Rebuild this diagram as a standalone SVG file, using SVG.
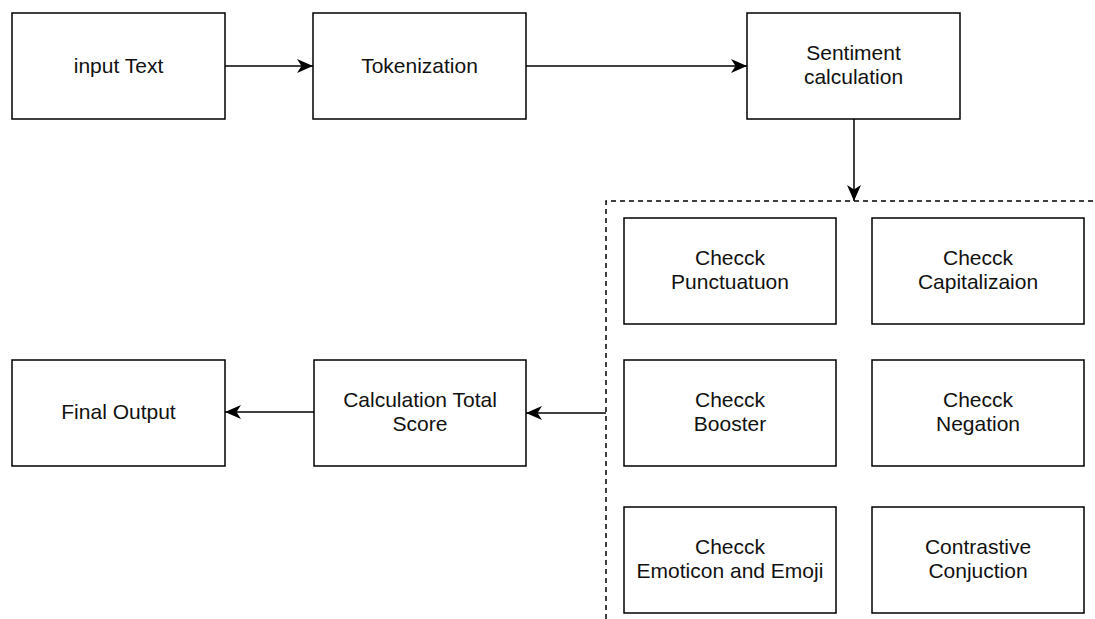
<svg xmlns="http://www.w3.org/2000/svg" width="1095" height="619" viewBox="0 0 1095 619">
  <style>
    .box { fill: #ffffff; stroke: #000000; stroke-width: 1.5; }
    .lbl { font-family: "Liberation Sans", Arial, Helvetica, sans-serif; font-size: 21px; fill: #111111; text-anchor: middle; }
    .edge { fill: none; stroke: #000000; stroke-width: 1.5; }
    .group { fill: none; stroke: #000000; stroke-width: 1.5; stroke-dasharray: 5 4; }
  </style>
  <defs>
    <marker id="arrow" markerUnits="userSpaceOnUse" markerWidth="18" markerHeight="16" refX="16" refY="8" orient="auto">
      <path d="M0,1 L16,8 L0,15 L4.5,8 Z" fill="#000000"/>
    </marker>
  </defs>
  <rect width="1095" height="619" fill="#ffffff"/>

  <!-- dashed container of the checks -->
  <path class="group" d="M606,619 L606,201 L1095,201"/>

  <g id="connectors">
    <line class="edge" x1="225" y1="66" x2="313" y2="66" marker-end="url(#arrow)"/>
    <line class="edge" x1="526" y1="66" x2="747" y2="66" marker-end="url(#arrow)"/>
    <line class="edge" x1="854" y1="119" x2="854" y2="201" marker-end="url(#arrow)"/>
    <line class="edge" x1="606" y1="413" x2="526" y2="413" marker-end="url(#arrow)"/>
    <line class="edge" x1="314" y1="412" x2="225" y2="412" marker-end="url(#arrow)"/>
  </g>

  <g id="input-text">
    <rect class="box" x="12" y="13" width="213" height="106"/>
    <text class="lbl" x="118.5" y="73">input Text</text>
  </g>
  <g id="tokenization">
    <rect class="box" x="313" y="13" width="213" height="106"/>
    <text class="lbl" x="419.5" y="73">Tokenization</text>
  </g>
  <g id="sentiment-calculation">
    <rect class="box" x="747" y="13" width="213" height="106"/>
    <text class="lbl" x="853.5" y="60">Sentiment</text>
    <text class="lbl" x="853.5" y="84">calculation</text>
  </g>

  <g id="check-punctuation">
    <rect class="box" x="624" y="218" width="212" height="106"/>
    <text class="lbl" x="730" y="265">Checck</text>
    <text class="lbl" x="730" y="289">Punctuatuon</text>
  </g>
  <g id="check-capitalization">
    <rect class="box" x="872" y="218" width="212" height="106"/>
    <text class="lbl" x="978" y="265">Checck</text>
    <text class="lbl" x="978" y="289">Capitalizaion</text>
  </g>
  <g id="check-booster">
    <rect class="box" x="624" y="360" width="212" height="106"/>
    <text class="lbl" x="730" y="407">Checck</text>
    <text class="lbl" x="730" y="431">Booster</text>
  </g>
  <g id="check-negation">
    <rect class="box" x="872" y="360" width="212" height="106"/>
    <text class="lbl" x="978" y="407">Checck</text>
    <text class="lbl" x="978" y="431">Negation</text>
  </g>
  <g id="check-emoticon">
    <rect class="box" x="624" y="507" width="212" height="106"/>
    <text class="lbl" x="730" y="554">Checck</text>
    <text class="lbl" x="730" y="578">Emoticon and Emoji</text>
  </g>
  <g id="contrastive-conjunction">
    <rect class="box" x="872" y="507" width="212" height="106"/>
    <text class="lbl" x="978" y="554">Contrastive</text>
    <text class="lbl" x="978" y="578">Conjuction</text>
  </g>

  <g id="calculation-total-score">
    <rect class="box" x="314" y="360" width="212" height="106"/>
    <text class="lbl" x="420" y="407">Calculation Total</text>
    <text class="lbl" x="420" y="431">Score</text>
  </g>
  <g id="final-output">
    <rect class="box" x="12" y="360" width="213" height="106"/>
    <text class="lbl" x="118.5" y="419">Final Output</text>
  </g>
</svg>
